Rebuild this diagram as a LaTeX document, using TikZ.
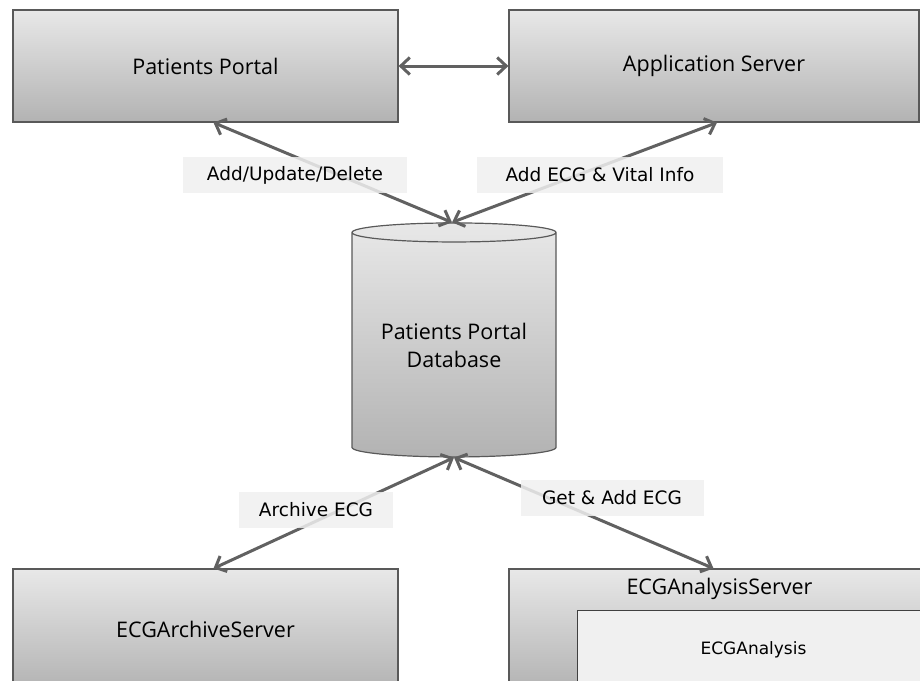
\documentclass[tikz,border=0pt]{standalone}
\usepackage{fontspec}
\setmainfont{Open Sans}
\newfontfamily\lblfont{DejaVu Sans}
\usetikzlibrary{shapes.geometric,arrows.meta}

\begin{document}
\begin{tikzpicture}[x=1pt,y=-1pt]

\tikzset{server/.style = {draw=black!65, line width=1.2pt, top color=black!9, bottom color=black!30, font=\fontsize{21.5}{28}\selectfont, inner sep=0pt}}
\tikzset{link/.style = {{Straight Barb[length=9pt,width=17pt]}-{Straight Barb[length=9pt,width=17pt]}, line width=3pt, draw=black!62}}
\tikzset{tag/.style = {fill=black!6, fill opacity=0.85, text opacity=1, font=\lblfont\fontsize{18.5}{22}\selectfont, inner sep=0pt, minimum height=36pt}}
\useasboundingbox (0,0) rectangle (920,680);
\clip (0,0) rectangle (920,680);
%\draw[help lines] (0,0) grid (920,680);
\node[server, minimum width=385pt, minimum height=112pt] (pp) at (205.5,66) {Patients Portal};
\node[server, minimum width=410pt, minimum height=112pt] (as) at (714,66) {Application Server};
\node[server, cylinder, shape border rotate=90, aspect=0.13, minimum width=204pt, minimum height=234pt, align=center] (db) at (454,345) {Patients Portal\\Database};
\node[server, minimum width=385pt, minimum height=121pt] (ar) at (205.5,629.5) {ECGArchiveServer};
\node[server, minimum width=421pt, minimum height=121pt, label={[anchor=north, yshift=-6pt, font=\fontsize{21.5}{28}\selectfont]north:ECGAnalysisServer}] (an) at (719.5,629.5) {};
\node[draw=black!75, line width=1pt, fill=black!6, minimum width=353pt, minimum height=80pt, font=\lblfont\fontsize{17}{20}\selectfont] (ea) at (753.5,650) {ECGAnalysis};

\draw[link] (pp) -- (as);
\draw[link] ([xshift=8pt]pp.south) -- ([xshift=-2pt]db.north);
\draw[link] ([xshift=3pt]as.south) -- ([xshift=-2pt]db.north);
\draw[link] (db.south) -- ([xshift=8pt]ar.north);
\draw[link] (db.south) -- ([xshift=-6pt]an.north);

\node[tag, minimum width=224pt] (t1) at (295,175) {Add/Update/Delete};
\node[tag, minimum width=246pt] (t2) at (600,175) {Add ECG \& Vital Info};
\node[tag, minimum width=154pt] (t3) at (316,510) {Archive ECG};
\node[tag, minimum width=183pt] (t4) at (612,498) {Get \& Add ECG};
\end{tikzpicture}
\end{document}
